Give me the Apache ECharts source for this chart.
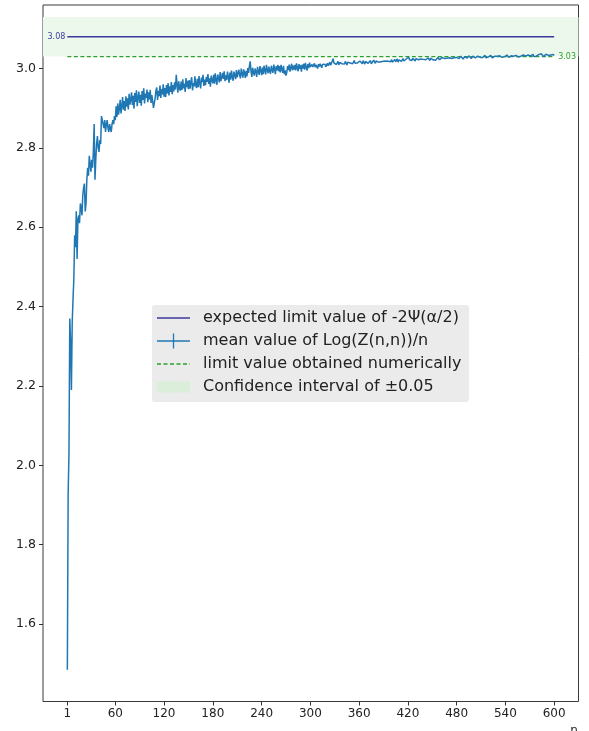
<!DOCTYPE html>
<html>
<head>
<meta charset="utf-8">
<script src="https://cdn.jsdelivr.net/npm/echarts@6/dist/echarts.min.js"></script>
<style>
  html, body { margin: 0; padding: 0; background: #ffffff; }
  #chart { width: 589px; height: 731px; }
</style>
</head>
<body>
<div id="chart"></div>
<script>
// Mean of Log(Z(n,n))/n for n = 1 .. 600 (one value per n, rows of 10)
const meanValues = [
  1.485, 1.930, 2.030, 2.370, 2.310, 2.190, 2.360, 2.420, 2.470, 2.580,
  2.550, 2.640, 2.520, 2.620, 2.630, 2.610, 2.660, 2.650, 2.630, 2.680,
  2.700, 2.710, 2.640, 2.660, 2.720, 2.750, 2.730, 2.780, 2.760, 2.740,
  2.770, 2.750, 2.790, 2.860, 2.720, 2.770, 2.810, 2.830, 2.800, 2.790,
  2.820, 2.810, 2.880, 2.870, 2.860, 2.850, 2.870, 2.840, 2.860, 2.870,
  2.850, 2.840, 2.860, 2.850, 2.840, 2.860, 2.870, 2.860, 2.880, 2.870,
  2.905, 2.878, 2.912, 2.884, 2.899, 2.921, 2.887, 2.905, 2.928, 2.896,
  2.918, 2.893, 2.930, 2.904, 2.925, 2.897, 2.936, 2.909, 2.922, 2.940,
  2.908, 2.931, 2.899, 2.938, 2.916, 2.945, 2.905, 2.927, 2.942, 2.913,
  2.934, 2.906, 2.943, 2.921, 2.950, 2.912, 2.937, 2.926, 2.947, 2.915,
  2.940, 2.922, 2.946, 2.913, 2.933, 2.918, 2.901, 2.896, 2.925, 2.944,
  2.952, 2.921, 2.944, 2.930, 2.957, 2.926, 2.948, 2.935, 2.960, 2.929,
  2.951, 2.928, 2.958, 2.937, 2.963, 2.932, 2.955, 2.941, 2.966, 2.935,
  2.958, 2.942, 2.965, 2.947, 2.984, 2.960, 2.939, 2.968, 2.951, 2.944,
  2.967, 2.946, 2.973, 2.950, 2.962, 2.941, 2.976, 2.953, 2.969, 2.948,
  2.971, 2.949, 2.966, 2.978, 2.945, 2.963, 2.955, 2.980, 2.958, 2.951,
  2.974, 2.953, 2.981, 2.962, 2.950, 2.977, 2.966, 2.984, 2.956, 2.972,
  2.958, 2.979, 2.966, 2.986, 2.961, 2.975, 2.954, 2.982, 2.970, 2.963,
  2.984, 2.962, 2.988, 2.970, 2.959, 2.985, 2.976, 2.965, 2.991, 2.968,
  2.966, 2.989, 2.974, 2.993, 2.968, 2.983, 2.971, 2.992, 2.979, 2.964,
  2.990, 2.972, 2.995, 2.979, 2.969, 2.992, 2.984, 2.973, 2.996, 2.978,
  2.974, 2.997, 2.983, 2.975, 3.000, 2.987, 2.977, 2.998, 2.989, 2.976,
  2.994, 2.980, 3.001, 2.989, 3.006, 3.018, 2.993, 2.979, 3.002, 2.990,
  2.982, 3.000, 2.992, 2.979, 3.004, 2.993, 2.984, 3.006, 2.995, 2.983,
  3.002, 2.986, 3.007, 2.995, 2.985, 3.009, 2.996, 2.988, 3.005, 2.993,
  2.987, 3.007, 2.997, 2.989, 3.010, 2.999, 2.986, 3.006, 2.995, 3.009,
  2.993, 3.006, 2.990, 3.009, 2.998, 2.989, 3.007, 2.986, 2.995, 2.982,
  2.990, 3.006, 2.996, 3.010, 2.992, 3.003, 3.012, 2.995, 3.007, 2.997,
  3.009, 2.995, 3.013, 3.001, 2.993, 3.011, 2.999, 3.008, 2.992, 3.010,
  3.000, 3.012, 2.997, 3.014, 3.003, 2.995, 3.011, 3.001, 3.015, 3.004,
  3.001, 3.010, 3.004, 3.008, 3.013, 3.003, 3.009, 3.006, 3.000, 3.011,
  3.005, 3.012, 3.007, 3.002, 3.010, 3.014, 3.006, 3.011, 3.004, 3.009,
  3.013, 3.007, 3.011, 3.016, 3.008, 3.012, 3.019, 3.025, 3.014, 3.009,
  3.016, 3.010, 3.013, 3.018, 3.009, 3.015, 3.011, 3.017, 3.012, 3.008,
  3.015, 3.011, 3.018, 3.013, 3.009, 3.016, 3.012, 3.019, 3.014, 3.010,
  3.017, 3.012, 3.015, 3.020, 3.013, 3.010, 3.018, 3.014, 3.016, 3.011,
  3.019, 3.014, 3.017, 3.012, 3.020, 3.015, 3.011, 3.018, 3.016, 3.021,
  3.013, 3.018, 3.015, 3.020, 3.012, 3.017, 3.014, 3.021, 3.016, 3.013,
  3.019, 3.015, 3.021, 3.016, 3.013, 3.020, 3.017, 3.022, 3.014, 3.018,
  3.021, 3.016, 3.019, 3.014, 3.022, 3.018, 3.015, 3.020, 3.017, 3.023,
  3.016, 3.021, 3.018, 3.023, 3.017, 3.020, 3.024, 3.016, 3.022, 3.019,
  3.023, 3.018, 3.021, 3.025, 3.019, 3.022, 3.017, 3.024, 3.020, 3.026,
  3.029, 3.022, 3.018, 3.024, 3.020, 3.026, 3.021, 3.023, 3.019, 3.025,
  3.020, 3.025, 3.022, 3.027, 3.019, 3.024, 3.021, 3.026, 3.023, 3.020,
  3.026, 3.022, 3.025, 3.021, 3.027, 3.023, 3.020, 3.026, 3.024, 3.028,
  3.022, 3.027, 3.024, 3.021, 3.026, 3.023, 3.028, 3.025, 3.022, 3.027,
  3.024, 3.028, 3.023, 3.027, 3.025, 3.029, 3.022, 3.026, 3.028, 3.024,
  3.027, 3.024, 3.029, 3.025, 3.028, 3.023, 3.027, 3.030, 3.025, 3.028,
  3.026, 3.030, 3.025, 3.028, 3.031, 3.026, 3.029, 3.024, 3.028, 3.030,
  3.027, 3.031, 3.026, 3.029, 3.032, 3.027, 3.030, 3.025, 3.029, 3.031,
  3.028, 3.032, 3.027, 3.030, 3.026, 3.031, 3.029, 3.033, 3.028, 3.030,
  3.032, 3.028, 3.031, 3.029, 3.033, 3.027, 3.030, 3.032, 3.029, 3.031,
  3.028, 3.033, 3.030, 3.027, 3.032, 3.029, 3.031, 3.034, 3.028, 3.031,
  3.033, 3.029, 3.032, 3.030, 3.035, 3.028, 3.031, 3.033, 3.030, 3.032,
  3.029, 3.034, 3.031, 3.028, 3.033, 3.030, 3.032, 3.036, 3.029, 3.031,
  3.034, 3.030, 3.033, 3.031, 3.035, 3.029, 3.032, 3.034, 3.031, 3.033,
  3.030, 3.034, 3.032, 3.035, 3.031, 3.033, 3.029, 3.034, 3.032, 3.036,
  3.031, 3.034, 3.032, 3.036, 3.030, 3.033, 3.035, 3.031, 3.034, 3.032,
  3.035, 3.031, 3.034, 3.037, 3.032, 3.034, 3.030, 3.035, 3.033, 3.036,
  3.032, 3.035, 3.033, 3.037, 3.031, 3.034, 3.036, 3.032, 3.035, 3.033
];
const nFirst = 1;
const nLast = 600;

// Reference levels
const expectedLimit = 3.08;      // -2Ψ(α/2)
const numericLimit = 3.03;       // limit obtained numerically
const confidenceHalfWidth = 0.05;

// Tick labels
const xTicks = [1, 60, 120, 180, 240, 300, 360, 420, 480, 540, 600];
const yTicks = [1.6, 1.8, 2.0, 2.2, 2.4, 2.6, 2.8, 3.0];

// Legend entries
const legendLabels = [
  'expected limit value of -2\u03A8(\u03B1/2)',
  'mean value of Log(Z(n,n))/n',
  'limit value obtained numerically',
  'Confidence interval of \u00B10.05'
];

const FONT = 'DejaVu Sans, Liberation Sans, sans-serif';
const C_MEAN = '#1f77b4';
const C_EXPECTED = '#3b3b9b';
const C_NUMERIC = '#2ca02c';
const C_BAND = '#edf8ec';

const X_MIN = -28.95, X_MAX = 629.95;
const Y_MIN = 1.405, Y_MAX = 3.16;

const chart = echarts.init(document.getElementById('chart'), null, { renderer: 'canvas' });

const meanData = meanValues.map((v, i) => [nFirst + i, v]);

function tickStyle(values) {
  return { show: true, length: 4, customValues: values, lineStyle: { color: '#333', width: 1 } };
}

chart.setOption({
  animation: false,
  backgroundColor: '#ffffff',
  grid: {
    left: 43, right: 10.5, top: 5, bottom: 29.5,
    show: true, borderColor: '#3a3a3a', borderWidth: 1, backgroundColor: 'transparent'
  },
  xAxis: {
    type: 'value', min: X_MIN, max: X_MAX, position: 'bottom',
    axisLine: { show: false, onZero: false },
    splitLine: { show: false },
    axisTick: tickStyle(xTicks),
    axisLabel: {
      customValues: xTicks, fontSize: 12, color: '#222', fontFamily: FONT, margin: 6
    }
  },
  yAxis: {
    type: 'value', min: Y_MIN, max: Y_MAX, position: 'left',
    axisLine: { show: false, onZero: false },
    splitLine: { show: false },
    axisTick: tickStyle(yTicks),
    axisLabel: {
      customValues: yTicks, fontSize: 12.5, color: '#222', fontFamily: FONT, margin: 7,
      formatter: v => v.toFixed(1)
    }
  },
  series: [
    {
      name: 'band', type: 'line', data: [], z: 1, silent: true,
      markArea: {
        silent: true,
        itemStyle: { color: C_BAND },
        data: [[
          { xAxis: X_MIN, yAxis: expectedLimit - confidenceHalfWidth },
          { xAxis: X_MAX, yAxis: expectedLimit + confidenceHalfWidth }
        ]]
      }
    },
    {
      name: 'numeric', type: 'line', z: 2, silent: true,
      data: [[nFirst, numericLimit], [nLast, numericLimit]],
      symbol: 'none',
      lineStyle: { color: C_NUMERIC, width: 1.3, type: [4, 2.5] }
    },
    {
      name: 'expected', type: 'line', z: 2, silent: true,
      data: [[nFirst, expectedLimit], [nLast, expectedLimit]],
      symbol: 'none',
      lineStyle: { color: C_EXPECTED, width: 1.5 }
    },
    {
      name: 'mean', type: 'line', z: 3, silent: true,
      data: meanData,
      symbol: 'none',
      lineStyle: { color: C_MEAN, width: 1.5 }
    }
  ]
});

// Value labels at the ends of the reference lines, plus the legend box
const pExp = chart.convertToPixel({ gridIndex: 0 }, [nFirst, expectedLimit]);
const pNum = chart.convertToPixel({ gridIndex: 0 }, [nLast, numericLimit]);

const LX = 152, LY = 305, LW = 317, LH = 97;
const rowY = [318, 341, 364, 387];
const hx0 = 157, hx1 = 190, tx = 203;

const graphics = [
  {
    type: 'text', z: 10,
    style: {
      text: expectedLimit.toFixed(2), x: pExp[0] - 2, y: pExp[1],
      align: 'right', verticalAlign: 'middle',
      fontSize: 8, fontFamily: FONT, fill: C_EXPECTED
    }
  },
  {
    type: 'text', z: 10,
    style: {
      text: numericLimit.toFixed(2), x: pNum[0] + 4, y: pNum[1],
      align: 'left', verticalAlign: 'middle',
      fontSize: 8, fontFamily: FONT, fill: C_NUMERIC
    }
  },
  {
    type: 'rect', z: 10,
    shape: { x: LX, y: LY, width: LW, height: LH, r: 3 },
    style: { fill: '#ebebeb', stroke: null }
  },
  {
    type: 'line', z: 11,
    shape: { x1: hx0, y1: rowY[0], x2: hx1, y2: rowY[0] },
    style: { stroke: C_EXPECTED, lineWidth: 1.5 }
  },
  {
    type: 'line', z: 11,
    shape: { x1: hx0, y1: rowY[1], x2: hx1, y2: rowY[1] },
    style: { stroke: C_MEAN, lineWidth: 1.5 }
  },
  {
    type: 'line', z: 11,
    shape: { x1: (hx0 + hx1) / 2, y1: rowY[1] - 7.5, x2: (hx0 + hx1) / 2, y2: rowY[1] + 7.5 },
    style: { stroke: C_MEAN, lineWidth: 1.3 }
  },
  {
    type: 'line', z: 11,
    shape: { x1: hx0, y1: rowY[2], x2: hx1, y2: rowY[2] },
    style: { stroke: C_NUMERIC, lineWidth: 1.3, lineDash: [4, 2.5] }
  },
  {
    type: 'rect', z: 11,
    shape: { x: hx0, y: rowY[3] - 5.5, width: hx1 - hx0, height: 11 },
    style: { fill: '#dbeeda' }
  },
  {
    type: 'text', z: 12,
    style: {
      text: 'n', x: 574, y: 731, align: 'center', verticalAlign: 'middle',
      fontSize: 12, fontFamily: FONT, fill: '#222'
    }
  }
];

legendLabels.forEach((label, i) => {
  graphics.push({
    type: 'text', z: 12,
    style: {
      text: label, x: tx, y: rowY[i], align: 'left', verticalAlign: 'middle',
      fontSize: 16, fontFamily: FONT, fill: '#222'
    }
  });
});

chart.setOption({ graphic: graphics });
</script>
</body>
</html>
